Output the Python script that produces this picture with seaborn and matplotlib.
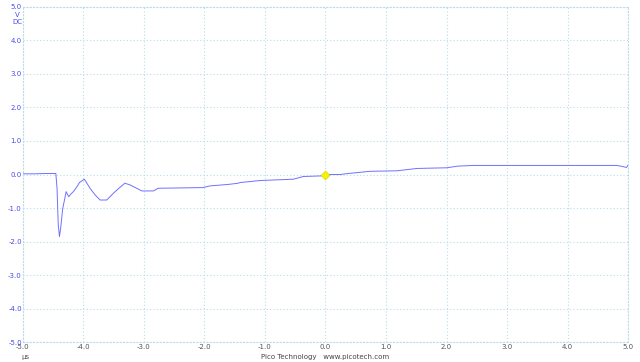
"""
Pico oscilloscope trace: single channel, DC coupled, +/-5 V over +/-5 us.
"""
import matplotlib
matplotlib.use("Agg")
import matplotlib.pyplot as plt
import numpy as np
import pandas as pd
import seaborn as sns

# trace (time in us, voltage in V)
time_us = [
    -5.00, -4.80, -4.60, -4.45, -4.43, -4.41, -4.39, -4.37, -4.336, -4.30,
    -4.28, -4.237, -4.20, -4.16, -4.10, -4.06, -3.98, -3.94, -3.886, -3.80,
    -3.72, -3.61, -3.50, -3.39, -3.31, -3.225, -3.17, -3.03, -2.84, -2.76,
    -2.40, -2.02, -1.905, -1.63, -1.575, -1.44, -1.41, -1.08, -0.53, -0.365,
    -0.035, 0.076, 0.24, 0.38, 0.736, 1.177, 1.51, 2.00, 2.19, 2.44,
    2.47, 3.50, 4.81, 4.90, 4.97, 5.00,
]
volts = [
    0.02, 0.02, 0.03, 0.03, -0.40, -1.50, -1.85, -1.60, -1.01, -0.70,
    -0.51, -0.66, -0.58, -0.51, -0.36, -0.24, -0.14, -0.25, -0.41, -0.61,
    -0.76, -0.76, -0.56, -0.38, -0.26, -0.31, -0.36, -0.49, -0.49, -0.41,
    -0.40, -0.39, -0.34, -0.30, -0.29, -0.26, -0.24, -0.18, -0.14, -0.06,
    -0.04, 0.00, 0.00, 0.03, 0.095, 0.11, 0.18, 0.20, 0.25, 0.27,
    0.27, 0.27, 0.27, 0.24, 0.21, 0.29,
]
trigger_t = [0.0]
trigger_v = [0.0]

x_ticks = [-5.0, -4.0, -3.0, -2.0, -1.0, 0.0, 1.0, 2.0, 3.0, 4.0, 5.0]
y_ticks = [-5.0, -4.0, -3.0, -2.0, -1.0, 0.0, 1.0, 2.0, 3.0, 4.0, 5.0]

grid_color = "#b8dde9"
trace_color = "#7070ff"
volt_color = "#4a4aee"
text_color = "#555555"
fs = 5.0

sns.set_style("white")
plt.rcParams["font.family"] = ["DejaVu Sans"]

W, H = 640, 362
fig = plt.figure(figsize=(W / 100, H / 100), dpi=100)
left, right, top, bottom = 22.5, 628.3, 6.7, 342.3
ax = fig.add_axes([left / W, 1 - bottom / H, (right - left) / W, (bottom - top) / H])

df = pd.DataFrame({"t": time_us, "v": volts})
sns.lineplot(data=df, x="t", y="v", ax=ax, color=trace_color, linewidth=0.7,
             estimator=None, sort=False)
sns.scatterplot(x=trigger_t, y=trigger_v, ax=ax, marker="D", s=20,
                color="#f5f500", edgecolor="#d8d800", linewidth=0.5, zorder=5)

ax.set_xlim(-5, 5)
ax.set_ylim(-5, 5)
ax.set_xticks(x_ticks)
ax.set_yticks(y_ticks)
ax.set_xticklabels([f"{t:.1f}" for t in x_ticks], color=text_color, fontsize=fs)
ax.set_yticklabels([f"{t:.1f}" for t in y_ticks], color=volt_color, fontsize=fs)
ax.tick_params(axis="both", length=0)
ax.tick_params(axis="y", pad=0.5)
ax.tick_params(axis="x", pad=1.5)
ax.set_xlabel("")
ax.set_ylabel("")

ax.grid(True, color=grid_color, linestyle=(0, (1, 2)), linewidth=0.8)
for s in ax.spines.values():
    s.set_color(grid_color)
    s.set_linestyle((0, (1, 2)))
    s.set_linewidth(0.8)

fig.text(17 / W, 1 - 15 / H, "V", color=volt_color, fontsize=fs, ha="center", va="center")
fig.text(17 / W, 1 - 22.5 / H, "DC", color=volt_color, fontsize=fs, ha="center", va="center")
fig.text(25 / W, 1 - 357 / H, "µs", color=text_color, fontsize=fs, ha="center", va="center")
fig.text(325 / W, 1 - 357 / H, "Pico Technology   www.picotech.com",
         color="#444444", fontsize=fs, ha="center", va="center")

fig.savefig("out.png", dpi=100)
plt.close(fig)
